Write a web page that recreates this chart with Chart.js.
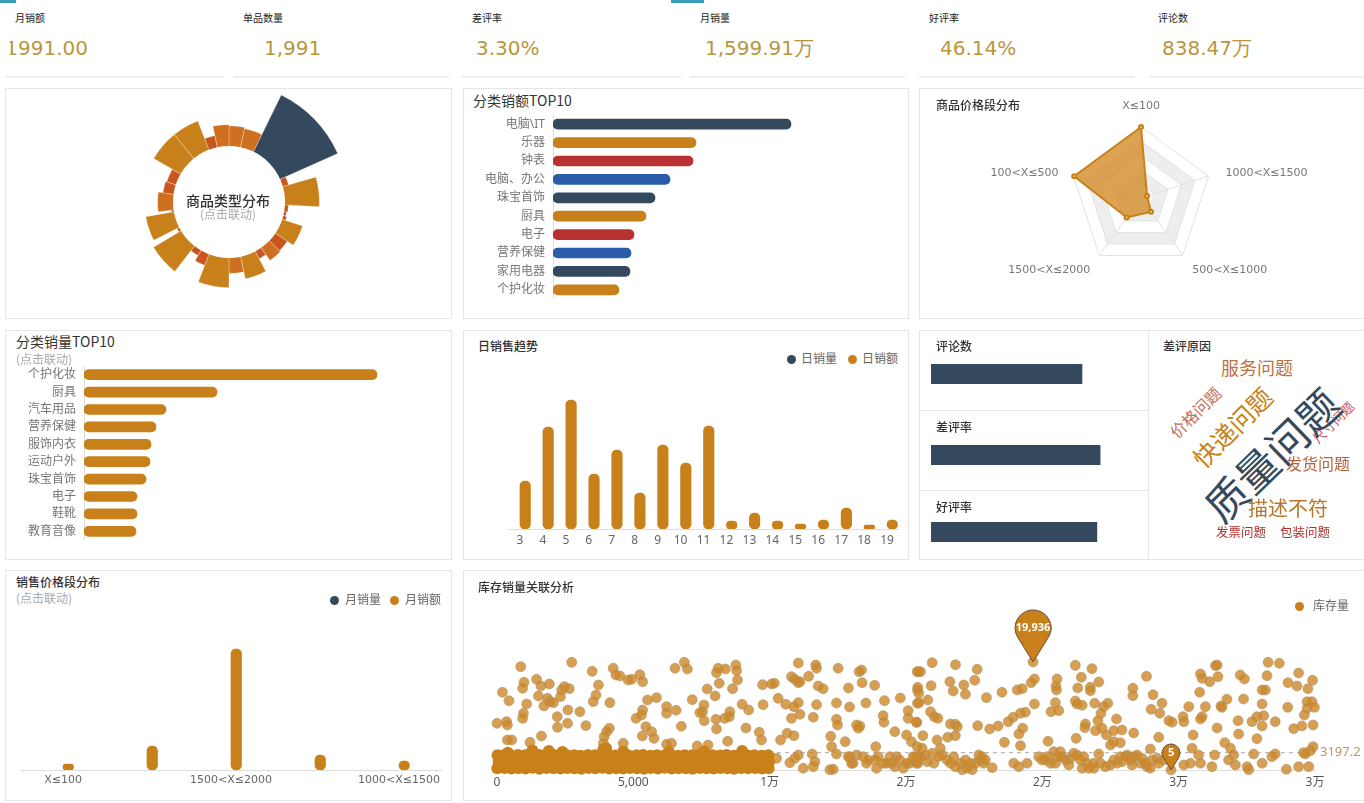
<!DOCTYPE html>
<html lang="zh">
<head>
<meta charset="utf-8">
<title>销售看板</title>
<script src="https://cdn.jsdelivr.net/npm/chart.js@4"></script>
<style>
  html, body { margin:0; padding:0; background:#fff; width:1364px; height:803px; overflow:hidden; }
  body { position:relative; font-family:"Noto Sans CJK SC","Noto Sans",sans-serif; color:#333; }
  .panel { position:absolute; box-sizing:border-box; border:1px solid #e6e6e6; background:#fff; }
  .rule { position:absolute; height:2px; top:76px; background:#eee; }
  .accent { position:absolute; top:0; height:3px; background:#3a9dbb; }
  .txt { position:absolute; white-space:nowrap; line-height:1; }
  .kpi-l { font-size:10px; color:#222; top:13px; }
  .kpi-v { font-family:"DejaVu Sans",sans-serif; font-size:20px; color:#b8963e; top:38px; }
  .title { font-size:12px; font-weight:500; color:#333; }
  .title-b { font-size:14px; color:#333; }
  .hint { font-size:12px; color:#aaa; }
  .lg { font-size:12px; color:#666; }
  .dot { position:absolute; width:9px; height:9px; border-radius:50%; }
  .word { position:absolute; white-space:nowrap; line-height:1; transform:translate(-50%,-50%); }
  canvas { position:absolute; }
</style>
</head>
<body>
<div class="accent" style="left:0;width:16px"></div>
<div class="accent" style="left:671px;width:33px"></div>

<div class="txt kpi-l" style="left:15px">月销额</div>
<div class="txt kpi-l" style="left:243px">单品数量</div>
<div class="txt kpi-l" style="left:472px">差评率</div>
<div class="txt kpi-l" style="left:700px">月销量</div>
<div class="txt kpi-l" style="left:929px">好评率</div>
<div class="txt kpi-l" style="left:1158px">评论数</div>
<div style="position:absolute;left:10px;top:30px;width:90px;height:36px;overflow:hidden">
  <div class="txt kpi-v" style="right:12px;top:8px">1991.00</div>
</div>
<div class="txt kpi-v" style="left:264px">1,991</div>
<div class="txt kpi-v" style="left:476px">3.30%</div>
<div class="txt kpi-v" style="left:705px">1,599.91万</div>
<div class="txt kpi-v" style="left:940px">46.14%</div>
<div class="txt kpi-v" style="left:1162px">838.47万</div>
<div class="rule" style="left:6px;width:218px"></div>
<div class="rule" style="left:233px;width:216px"></div>
<div class="rule" style="left:462px;width:219px"></div>
<div class="rule" style="left:690px;width:215px"></div>
<div class="rule" style="left:919px;width:216px"></div>
<div class="rule" style="left:1150px;width:214px"></div>

<div class="panel" style="left:5px;top:88px;width:447px;height:231px"></div>
<div class="panel" style="left:463px;top:88px;width:446px;height:231px"></div>
<div class="panel" style="left:919px;top:88px;width:450px;height:231px"></div>
<div class="panel" style="left:5px;top:330px;width:447px;height:230px"></div>
<div class="panel" style="left:463px;top:330px;width:446px;height:230px"></div>
<div class="panel" style="left:919px;top:330px;width:230px;height:81px"></div>
<div class="panel" style="left:919px;top:410px;width:230px;height:81px"></div>
<div class="panel" style="left:919px;top:490px;width:230px;height:70px"></div>
<div class="panel" style="left:1148px;top:330px;width:221px;height:230px"></div>
<div class="panel" style="left:5px;top:570px;width:447px;height:231px"></div>
<div class="panel" style="left:463px;top:570px;width:906px;height:231px"></div>

<canvas id="typeChart" width="238" height="238" style="left:110px;top:83px"></canvas>
<canvas id="amountChart" width="446" height="184" style="left:463px;top:115px"></canvas>
<canvas id="radarChart" width="445" height="230" style="left:919px;top:88px"></canvas>
<canvas id="volumeChart" width="447" height="174" style="left:5px;top:366px"></canvas>
<canvas id="dailyChart" width="446" height="164" style="left:463px;top:390px"></canvas>
<canvas id="commentChart" width="206" height="20" style="left:931px;top:364px"></canvas>
<canvas id="badChart" width="206" height="20" style="left:931px;top:445px"></canvas>
<canvas id="goodChart" width="206" height="20" style="left:931px;top:522px"></canvas>
<canvas id="priceChart" width="447" height="155" style="left:5px;top:640px"></canvas>
<canvas id="stockChart" width="901" height="230" style="left:463px;top:570px"></canvas>

<div class="txt" style="left:186px;top:193px;font-size:14px;font-weight:500;color:#333">商品类型分布</div>
<div class="txt hint" style="left:200px;top:208px">(点击联动)</div>
<div class="txt title-b" style="left:473px;top:93px">分类销额TOP10</div>
<div class="txt title" style="left:936px;top:99px">商品价格段分布</div>
<div class="txt title-b" style="left:16px;top:334px">分类销量TOP10</div>
<div class="txt hint" style="left:16px;top:353px">(点击联动)</div>
<div class="txt title" style="left:478px;top:340px">日销售趋势</div>
<div class="txt title" style="left:936px;top:340px">评论数</div>
<div class="txt title" style="left:936px;top:421px">差评率</div>
<div class="txt title" style="left:936px;top:501px">好评率</div>
<div class="txt title" style="left:1163px;top:340px">差评原因</div>
<div class="txt title" style="left:16px;top:576px">销售价格段分布</div>
<div class="txt hint" style="left:16px;top:592px">(点击联动)</div>
<div class="txt title" style="left:478px;top:581px">库存销量关联分析</div>

<span class="dot" style="left:787px;top:355px;background:#34495e"></span>
<div class="txt lg" style="left:801px;top:352px">日销量</div>
<span class="dot" style="left:848px;top:355px;background:#c8811a"></span>
<div class="txt lg" style="left:862px;top:352px">日销额</div>
<span class="dot" style="left:330px;top:596px;background:#34495e"></span>
<div class="txt lg" style="left:345px;top:593px">月销量</div>
<span class="dot" style="left:390px;top:596px;background:#c8811a"></span>
<div class="txt lg" style="left:405px;top:593px">月销额</div>
<span class="dot" style="left:1295px;top:602px;background:#c8811a"></span>
<div class="txt lg" style="left:1313px;top:599px">库存量</div>

<div style="position:absolute;left:1149px;top:331px;width:215px;height:228px;overflow:hidden">
  <span class="word" style="left:108px;top:36px;font-size:18px;color:#c07040">服务问题</span>
  <span class="word" style="left:46px;top:81px;font-size:16px;color:#c56c5a;transform:translate(-50%,-50%) rotate(-45deg)">价格问题</span>
  <span class="word" style="left:83px;top:96px;font-size:25px;color:#c8811a;transform:translate(-50%,-50%) rotate(-45deg)">快递问题</span>
  <span class="word" style="left:184px;top:91px;font-size:13px;color:#c9505a;transform:translate(-50%,-50%) rotate(-45deg)">尺寸问题</span>
  <span class="word" style="left:122px;top:123px;font-size:42px;color:#34495e;transform:translate(-50%,-50%) rotate(-44deg)">质量问题</span>
  <span class="word" style="left:169px;top:132px;font-size:16px;color:#b9633a">发货问题</span>
  <span class="word" style="left:139px;top:177px;font-size:20px;color:#b5762d">描述不符</span>
  <span class="word" style="left:92px;top:201px;font-size:12.5px;color:#b03030">发票问题</span>
  <span class="word" style="left:156px;top:201px;font-size:12.5px;color:#b03030">包装问题</span>
</div>

<script>
const DARK = "#34495e", GOLD = "#c8811a", RED = "#b93232", BLUE = "#2a5caa";
const ORANGE = "#cf6f20", DEEP = "#c8561e";

// 商品类型分布
const typeShare = [64,63,100,52,76,50,49,50,65,59,60,54,66,60,72,57,52,74,49,71,49,60,56,55,73,73,57,65];
const typeAngle = [12,14,40,8,19,7,4,4,16,10,11,7,16,12,21,9,8,21,4,17,2,16,10,12,21,18,9,12];
const typeColors = [ORANGE,ORANGE,DARK,DEEP,GOLD,DEEP,"#c2354a",DEEP,GOLD,DEEP,ORANGE,DEEP,GOLD,ORANGE,GOLD,DEEP,DEEP,GOLD,DEEP,GOLD,DEEP,ORANGE,DEEP,DEEP,GOLD,GOLD,DEEP,ORANGE];

// 分类销额TOP10
const amountCats = ["电脑\\IT","乐器","钟表","电脑、办公","珠宝首饰","厨具","电子","营养保健","家用电器","个护化妆"];
const amountVals = [238,143,140,117,102,93,81,78,77,66];
const amountColors = [DARK,GOLD,RED,BLUE,DARK,GOLD,RED,BLUE,DARK,GOLD];

// 商品价格段分布
const radarCats = ["X≤100","1000<X≤1500","500<X≤1000","1500<X≤2000","100<X≤500"];
const radarVals = [100,9,24,34,99];

// 分类销量TOP10
const volumeCats = ["个护化妆","厨具","汽车用品","营养保健","服饰内衣","运动户外","珠宝首饰","电子","鞋靴","教育音像"];
const volumeVals = [293,133,82,72,67,66,62,53,53,52];

// 日销售趋势
const days = ["3","4","5","6","7","8","9","10","11","12","13","14","15","16","17","18","19"];
const dailyVolume = [null,null,null,null,null,null,null,null,null,null,null,null,null,null,null,null,null];
const dailyAmount = [48,102,129,55,79,36,84,66,103,8,16,8,5,9,21,4,9];

// 评论数 / 差评率 / 好评率
const commentCount = [838.47], commentMax = 1144;
const badRate = [3.30], badMax = 4.02;
const goodRate = [46.14], goodMax = 57.3;

// 销售价格段分布
const priceCats = ["X≤100","100<X≤500","1500<X≤2000","500<X≤1000","1000<X≤1500"];
const priceVolume = [null,null,null,null,null];
const priceAmount = [6,24,121,15,9];

// 库存销量关联分析: [月销量, 库存量]
const stockMean = 3197.2;
const stockPins = [[19660,19936,"19,936"],[24720,5,"5"]];
const stockTicks = [0,5000,10000,15000,20000,25000,30000];
const stockUpper = [
[870,19070],[2740,19860],[3490,18200],[4260,18760],[4360,17530],[4510,17340],[4810,16600],[4940,16730],[5240,17590],[5340,16300],
[6530,18760],[6870,19860],[6980,18630],[8050,17960],[8110,18760],[8380,18630],[8760,19370],[8790,18330],[8820,16600],[9740,15740],
[10070,15870],[10170,15990],[11050,19740],[11690,19370],[11720,18760],[12510,18760],[13370,18450],[13280,18140],[10800,17220],[10920,16730],
[11050,16110],[11110,16300],[11430,17280],[11780,15500],[11960,15000],[12890,15130],[13390,16110],[13850,15620],[200,14330],[440,12790],
[990,16180],[940,15070],[1450,16730],[1610,15500],[1920,15870],[2650,15000],[2470,15380],[2370,14760],[2330,13530],[1520,13650],
[1850,13220],[1940,12610],[2070,12420],[1720,11810],[1090,12180],[3720,15680],[3630,13840],[3530,12610],[4140,12420],[5520,12920],
[5850,13350],[7160,12980],[7710,14950],[8150,15990],[8640,15000],[8000,13650],[7590,11990],[7540,10760],[7440,10580],[7600,9100],
[8540,10760],[8520,9840],[8350,9530],[8030,9350],[8990,12120],[9230,11070],[9760,12050],[10310,13220],[10590,12120],[10890,11690],
[11050,12420],[11720,12050],[12450,12360],[12930,11620],[13530,12360],[14210,12790],[14790,13280],[15420,14760],[15420,12300],[15450,18140],
[5340,11070],[5300,10150],[5100,9530],[6220,11690],[6220,10460],[6570,11010],[2600,11070],[3040,10760],[2210,9840],[970,10460],
[940,9530],[0,8610],[350,8920],[380,8300],[2220,7870],[2590,8610],[3260,8180],[4120,7690],[4020,7070],[3930,6150],
[5460,8000],[5670,7070],[5330,6270],[5760,5840],[6760,8060],[8050,7560],[9130,7750],[9620,6950],[9700,5540],[10800,9530],
[11110,10270],[11600,9720],[12450,9350],[12490,8300],[13190,8300],[13310,8120],[13250,7690],[14160,10020],[14190,8800],[15080,10950],
[15080,9530],[15390,8800],[14590,7070],[15020,6460],[15200,5230],[380,5540],[540,5540],[1210,5100],[1630,6270],[3900,4920],
[4630,4920],[6220,4740],[6400,4920],[7340,4430],[7740,4610],[8460,5290],[10400,5540],[10640,6770],[10890,6340],[12240,6210],
[12770,5230],[12270,4310],[13890,4310],
[15960,19800],[16815,19430],[17610,18570],[15530,18140],[15410,18140],[16610,16300],[17520,16550],[17120,15680],[15920,15560],[15430,15250],
[15470,14150],[16730,14580],[17180,13960],[17950,13350],[18520,14330],[19080,14760],[19260,15000],[19590,16110],[19710,16790],[19660,19936],
[21210,19310],[21820,18700],[21430,17100],[22070,16240],[20540,16790],[20500,15500],[20520,14760],[21300,15130],[21760,15250],[21760,14640],
[23820,17280],[23320,15070],[23320,13720],[24060,13900],[25770,14330],[26350,19250],[26410,19370],[25800,17710],[25860,16910],[26140,16300],
[26440,17220],[27260,17530],[27410,16790],[28280,19860],[28690,19680],[29400,17900],[28240,17400],[29010,16110],[29340,15500],[29910,16550],
[29740,15000],[28180,14760],[28060,14760],[26770,13040],[27380,13100],[15470,12420],[15800,12920],[15900,10760],[16040,9840],[16170,9530],
[16630,8490],[16810,8430],[16880,8000],[17630,8180],[18070,7560],[18380,8120],[18750,8920],[18930,9720],[19200,10460],[19380,10640],
[19710,12180],[20480,12420],[20320,10760],[20600,10950],[21210,12730],[21270,12180],[21460,11930],[21920,12300],[22400,12300],[22250,11690],
[22150,10460],[22040,9100],[22720,9410],[21580,8490],[21560,7810],[21950,7260],[22190,7690],[22350,6460],[22620,7260],[22920,7380],
[23350,6830],[24390,12300],[23990,11190],[24310,10460],[24640,9100],[24760,8800],[25160,9840],[25190,8920],[25370,11690],[25980,11690],
[25860,9840],[25800,9410],[26550,11810],[26590,11560],[26410,7750],[27180,9100],[27200,6640],[27690,8920],[27870,9840],[28060,12180],
[28120,10020],[28060,8120],[28540,8920],[29000,11560],[29220,7630],[29520,8120],[29930,8300],[29610,10150],[29710,12610],[29890,12610],
[29710,11380],[29980,11560],[27870,5780],[15385,8800],[15620,6340],[16140,5540],[16530,6030],[16810,6340],[18610,5100],[19200,4490],
[19140,6640],[19280,7690],[20210,5290],[21240,5840],[24270,6030],[25530,6460],[26690,5040],[26900,4000],[29930,4310],[22620,5230],
[22860,5040],[22500,4610],[23960,3870],[25490,4000]
];
const stockLower = [
[12450,2950],[10250,2150],[10740,1350],[11050,2770],[10920,2150],[11560,2950],[11660,1540],[11230,310],[11600,620],[12210,50],
[12330,120],[12880,2460],[13060,1230],[13190,2770],[13550,1230],[13860,1850],[13920,310],[14290,1230],[14650,2460],[14590,620],
[14900,310],[15140,1230],[15390,1230],[15410,4310],[15590,4000],[15530,2460],[15960,3080],[16260,4000],[16330,2770],[16510,1850],
[17000,1230],[17060,50],[17360,1230],[17430,50],[17670,2770],[17730,1850],[17850,1230],[18160,430],[18950,1230],[19140,620],
[19440,1230],[19870,2460],[20110,1850],[20300,1230],[20420,3380],[20660,3380],[20720,2460],[21030,2150],[21270,2770],[21520,2460],
[21460,310],[21890,1230],[22070,2950],[21890,310],[22500,920],[22740,1230],[22860,2460],[23110,2770],[23350,2460],[23600,1230],
[23840,620],[23960,310],[24210,2150],[24450,1850],[24720,5],[25190,920],[25430,1230],[25730,2770],[25800,1230],[26220,620],
[26320,2770],[26830,1850],[27020,2770],[27080,920],[27510,620],[27570,50],[27750,2950],[28060,1230],[28420,2460],[28540,2950],
[28950,120],[29400,620],[29770,620],[29580,3200],[29830,3570],[29650,2950],
[15350,2460],[15430,1230],[15710,2770],[15780,1540],[16020,1230],[16200,2460],[16630,1230],[16750,2460],[16810,620],[17180,1850],
[17240,310],[17550,1230],[17790,2460],[17910,1850],[19990,1850],[20180,2460],[20480,1230],[20540,2460],[20850,1850],[20970,920],
[21150,3080],[21400,1850],[21640,1230],[21700,310],[22130,1230],[22310,620],[22620,1850],[22920,1540],[23050,2460],[23230,1850],
[23290,920],[23470,2770],[23660,2150],[23780,1230],[24020,1850],[24270,1230],
[12940,2460],[13000,1230],[13430,2460],[13610,1850],[13980,2460],[14160,1230],[14410,2460],[14470,1230],[14770,1850],[15020,1230],
[15260,2460],[15450,2460]
];
const stockBand = [
[20,2700],[270,2750],[520,2650],[770,2780],[1040,2700],[1280,2640],[1550,2760],[1790,2690],[2060,2800],[2300,2660],
[2570,2740],[2830,2700],[3060,2640],[3340,2770],[3590,2700],[3830,2650],[4100,2790],[4340,2680],[4610,2730],[4850,2650],
[5120,2710],[5360,2780],[5630,2640],[5870,2720],[6140,2680],[6380,2760],[6650,2650],[6890,2740],[7160,2700],[7400,2770],
[7670,2640],[7910,2730],[8180,2690],[8420,2750],[8690,2650],[8930,2780],[9200,2680],[9440,2720],[9710,2650],[9950,2740],
[60,1500],[330,1560],[570,1440],[830,1520],[1090,1480],[1350,1570],[1600,1430],[1860,1510],[2110,1550],[2370,1460],
[2620,1530],[2880,1450],[3130,1560],[3390,1490],[3640,1520],[3900,1440],[4150,1570],[4410,1500],[4660,1460],[4920,1540],
[5170,1480],[5430,1550],[5680,1440],[5940,1510],[6190,1570],[6450,1470],[6700,1530],[6960,1450],[7210,1500],[7470,1560],
[7720,1440],[7980,1520],[8230,1480],[8490,1570],[8740,1460],[9000,1530],[9250,1500],[9510,1440],[9760,1550],[9980,1500],
[10,310],[280,380],[530,260],[790,340],[1050,290],[1300,400],[1560,250],[1820,360],[2070,310],[2330,270],
[2580,390],[2840,300],[3090,240],[3350,350],[3600,310],[3860,400],[4110,260],[4370,330],[4620,280],[4880,390],
[5130,310],[5390,240],[5640,360],[5900,290],[6150,400],[6410,260],[6660,340],[6920,310],[7170,250],[7430,380],
[7680,300],[7940,270],[8190,390],[8450,320],[8700,250],[8960,360],[9210,300],[9470,390],[9720,260],[9960,330],
[400,3200],[1300,3600],[1900,3500],[2400,3300],[3900,3800],[4000,4000],[4630,3400],[6300,3300],[7600,3400],[8990,3500]
];

const PRICE_FONT = '"DejaVu Sans",sans-serif';
Chart.defaults.font.family = '"Noto Sans","Noto Sans CJK SC",sans-serif';
Chart.defaults.color = "#666";
Chart.defaults.animation = false;
Chart.defaults.responsive = false;
Chart.defaults.plugins.legend.display = false;
Chart.defaults.plugins.tooltip.enabled = false;

new Chart(document.getElementById("typeChart"), {
  type: "polarArea",
  data: { labels: typeShare.map((v, i) => String(i)),
    datasets: [{ data: typeShare, angle: typeAngle, backgroundColor: typeColors, borderColor: "#fff", borderWidth: 0.3 }] },
  options: { scales: { r: { display: false, min: 0, max: 100 } } },
  plugins: [{ id: "hole", afterDatasetsDraw(chart) {
    const s = chart.scales.r, c = chart.ctx;
    c.save(); c.fillStyle = "#fff"; c.beginPath();
    c.arc(s.xCenter, s.yCenter, 56, 0, Math.PI * 2); c.fill(); c.restore();
  } }]
});

function hbarOptions(axisWidth, maxVal) {
  return {
    indexAxis: "y",
    scales: {
      x: { display: false, min: 0, max: maxVal },
      y: {
        afterFit(s) { s.width = axisWidth; s.paddingTop = 0; s.paddingBottom = 0; },
        grid: { display: false, drawTicks: false },
        border: { color: "#ddd" },
        ticks: { autoSkip: false, padding: 8, font: { size: 12 }, color: "#777" }
      }
    }
  };
}

new Chart(document.getElementById("amountChart"), {
  type: "bar",
  data: { labels: amountCats, datasets: [{ data: amountVals, backgroundColor: amountColors, barThickness: 10, borderRadius: 5, borderSkipped: false }] },
  options: hbarOptions(90, 356)
});

new Chart(document.getElementById("volumeChart"), {
  type: "bar",
  data: { labels: volumeCats, datasets: [{ data: volumeVals, backgroundColor: GOLD, barThickness: 10, borderRadius: 5, borderSkipped: false }] },
  options: hbarOptions(79, 368)
});

// 雷达图的分隔带和外圈文字
new Chart(document.getElementById("radarChart"), {
  type: "radar",
  data: { labels: radarCats, datasets: [{ data: radarVals, backgroundColor: "rgba(210,140,40,0.8)", borderColor: GOLD, borderWidth: 2,
    pointRadius: 2, pointBackgroundColor: "#f0c070", pointBorderColor: GOLD }] },
  options: {
    layout: { padding: { top: 39, bottom: 48 } },
    scales: { r: { min: 0, max: 100, ticks: { display: false, stepSize: 20 }, grid: { color: "#e2e2e2" },
      angleLines: { color: "#e2e2e2" }, pointLabels: { display: false } } }
  },
  plugins: [{
    id: "rings",
    beforeDraw(chart) {
      const s = chart.scales.r, c = chart.ctx;
      [[100,"#fff"],[80,"#eee"],[60,"#fff"],[40,"#eee"],[20,"#fafafa"]].forEach(([v, color]) => {
        c.beginPath();
        radarCats.forEach((l, i) => {
          const p = s.getPointPosition(i, s.getDistanceFromCenterForValue(v));
          i ? c.lineTo(p.x, p.y) : c.moveTo(p.x, p.y);
        });
        c.closePath(); c.fillStyle = color; c.fill();
      });
    },
    afterDraw(chart) {
      const s = chart.scales.r, c = chart.ctx;
      const off = [[0,-21,"center"],[17,-3,"left"],[47,15,"center"],[-50,15,"center"],[-15,-3,"right"]];
      c.save(); c.font = "11px " + PRICE_FONT; c.fillStyle = "#777"; c.textBaseline = "middle";
      radarCats.forEach((l, i) => {
        const p = s.getPointPosition(i, s.drawingArea);
        c.textAlign = off[i][2];
        c.fillText(l, p.x + off[i][0], p.y + off[i][1]);
      });
      c.restore();
    }
  }]
});

function columnOptions(yMax, pad) {
  return {
    layout: { padding: pad },
    scales: {
      x: { afterFit(s) { s.height = 25; }, grid: { display: false, drawTicks: false }, border: { color: "#ddd" },
        ticks: { autoSkip: false, maxRotation: 0, padding: 4, font: { size: 12 }, color: "#666" } },
      y: { display: false, min: 0, max: yMax }
    }
  };
}

new Chart(document.getElementById("dailyChart"), {
  type: "bar",
  data: { labels: days, datasets: [
    { label: "日销量", data: dailyVolume, backgroundColor: DARK, barThickness: 10.5 },
    { label: "日销额", data: dailyAmount, backgroundColor: GOLD, barThickness: 10.5, borderRadius: 5, borderSkipped: false }
  ] },
  options: columnOptions(139, { left: 45.5, right: 10.5 })
});

function singleBar(id, vals, maxVal) {
  new Chart(document.getElementById(id), {
    type: "bar",
    data: { labels: [""], datasets: [{ data: vals, backgroundColor: DARK, barPercentage: 1, categoryPercentage: 1 }] },
    options: { indexAxis: "y", scales: { x: { display: false, min: 0, max: maxVal }, y: { display: false } } }
  });
}
singleBar("commentChart", commentCount, commentMax);
singleBar("badChart", badRate, badMax);
singleBar("goodChart", goodRate, goodMax);

const priceOpts = columnOptions(130, { left: 16, right: 11 });
priceOpts.scales.x.ticks.font = { size: 11, family: PRICE_FONT };
priceOpts.scales.x.ticks.callback = function (v, i) { return i % 2 ? "" : priceCats[i]; };
new Chart(document.getElementById("priceChart"), {
  type: "bar",
  data: { labels: priceCats, datasets: [
    { label: "月销量", data: priceVolume, backgroundColor: DARK, barThickness: 10.5 },
    { label: "月销额", data: priceAmount, backgroundColor: GOLD, barThickness: 10.5, borderRadius: 5, borderSkipped: false }
  ] },
  options: priceOpts
});

const toXY = ([x, y]) => ({ x, y });
new Chart(document.getElementById("stockChart"), {
  type: "scatter",
  data: { datasets: [
    { label: "库存量", data: stockBand.map(toXY), clip: false,
      backgroundColor: GOLD, borderColor: GOLD, borderWidth: 0, pointRadius: 6 },
    { label: "库存量", data: stockUpper.concat(stockLower).map(toXY), clip: false,
      backgroundColor: "rgba(205,135,40,0.8)", borderColor: "rgba(170,145,100,0.55)", borderWidth: 1, pointRadius: 5 },
    { type: "line", data: [{ x: 0, y: stockMean }, { x: 30000, y: stockMean }], borderColor: "#aaa", borderWidth: 1,
      borderDash: [4, 4], pointRadius: 0 }
  ] },
  options: {
    layout: { padding: { left: 34, right: 49, top: 91.6 } },
    scales: {
      x: { type: "linear", min: 0, max: 30000, afterFit(s) { s.height = 30; },
        afterBuildTicks(s) { s.ticks = stockTicks.map(value => ({ value })); },
        grid: { display: false, drawTicks: false }, border: { color: "#ddd" },
        ticks: { maxRotation: 0, padding: 5, font: { size: 12 }, color: "#555",
          callback: v => v < 10000 ? v.toLocaleString("en-US") : Math.round(v / 10000) + "万" } },
      y: { display: false, min: 0, max: 20000 }
    }
  },
  plugins: [{
    id: "pins",
    afterDraw(chart) {
      const c = chart.ctx, sx = chart.scales.x, sy = chart.scales.y;
      stockPins.forEach(([vx, vy, label], i) => {
        const tipX = sx.getPixelForValue(vx), tipY = sy.getPixelForValue(vy);
        const r = i ? 9 : 18, cy = tipY - (i ? 17 : 34);
        const a = Math.acos(r / (tipY - cy));
        c.save();
        c.beginPath();
        c.arc(tipX, cy, r, Math.PI / 2 + a, Math.PI / 2 - a);
        c.lineTo(tipX, tipY);
        c.closePath();
        c.fillStyle = GOLD; c.strokeStyle = "#6b4a3a"; c.lineWidth = 1;
        c.fill(); c.stroke();
        c.fillStyle = "#fff"; c.textAlign = "center"; c.textBaseline = "middle";
        c.font = 'bold 11px "Noto Sans","Noto Sans CJK SC"';
        c.fillText(label, tipX, cy);
        c.restore();
      });
      c.save();
      c.fillStyle = "#b59a6a"; c.font = '13px "Noto Sans","Noto Sans CJK SC"'; c.textBaseline = "middle";
      c.fillText(String(stockMean), sx.right + 5, sy.getPixelForValue(stockMean));
      c.restore();
    }
  }]
});
</script>
</body>
</html>
